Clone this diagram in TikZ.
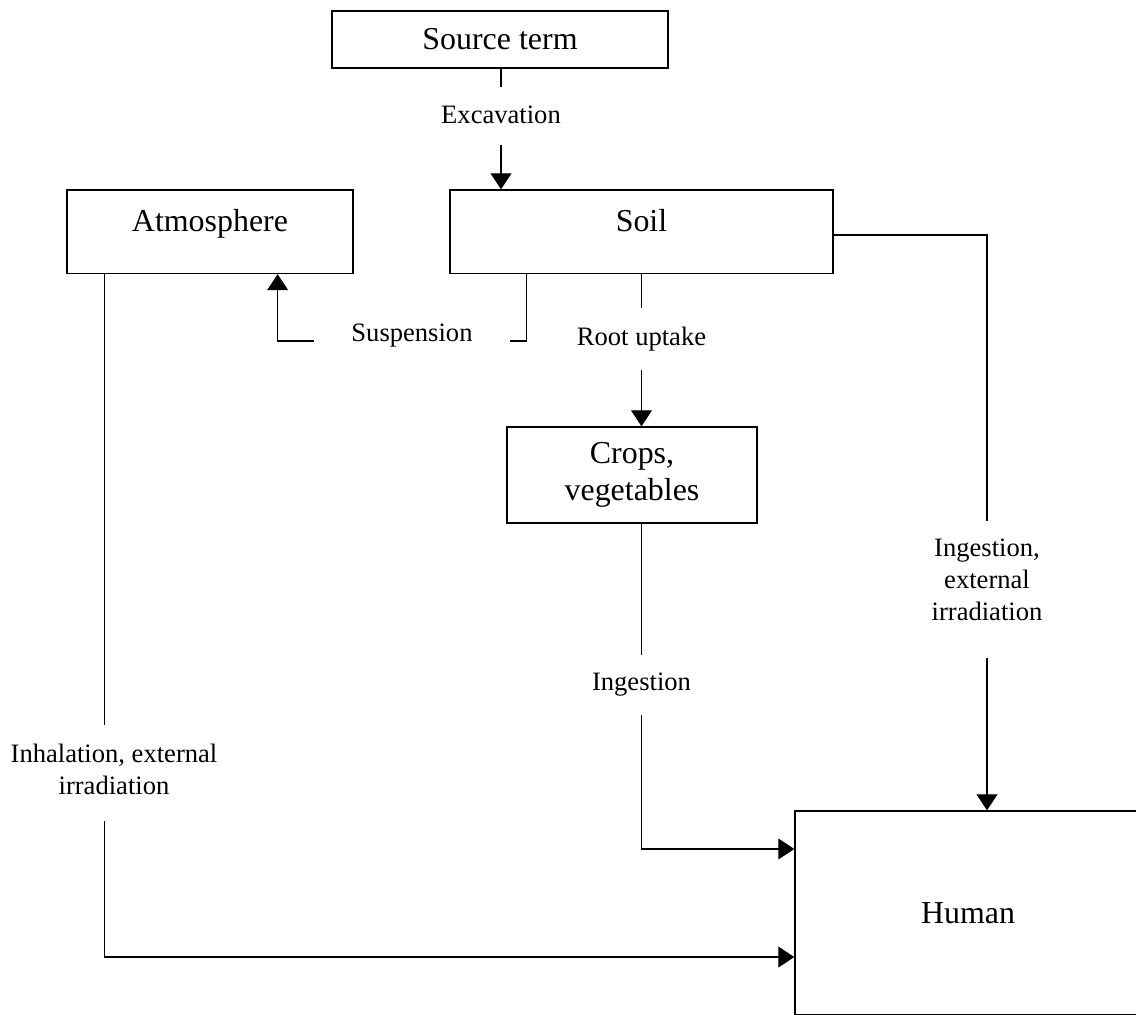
\documentclass[tikz,border=0pt]{standalone}
\usepackage{fontspec}
\setmainfont{Liberation Serif}
\usetikzlibrary{arrows.meta}

\begin{document}
\begin{tikzpicture}[x=0.025cm, y=-0.025cm, line width=0.9pt,
	box/.style = {draw, rectangle, inner sep=0pt, align=center,
		font=\fontsize{22.7pt}{26pt}\selectfont},
	pathlabel/.style = {inner xsep=0pt, inner ysep=0.45cm, align=center,
		font=\fontsize{18.9pt}{22.7pt}\selectfont},
	flow/.style = {-{Triangle[length=0.4cm, width=0.52cm]}}]

	\useasboundingbox (0, 0) rectangle (1136, 1014);

	% Compartments

	\node [box, minimum width=8.4cm, minimum height=1.425cm] (source) at (500, 39.5) {Source term};
	\node [box, minimum width=7.15cm, minimum height=2.09cm, text height=0.7em, text depth=0.7em] (atmos) at (210, 231.75) {Atmosphere};
	\node [box, minimum width=9.575cm, minimum height=2.09cm, text height=0.7em, text depth=0.7em] (soil) at (641.5, 231.75) {Soil};
	\node [box, minimum width=6.25cm, minimum height=2.4cm] (crops) at (632, 475) {Crops,\\vegetables};
	\node [box, minimum width=8.65cm, minimum height=5.1cm] (human) at (968, 913) {Human};

	% Transfer pathways

	\node [pathlabel] (excav) at (501, 115) {Excavation};
	\node [pathlabel] (uptake) at (641.5, 339) {Root uptake};
	\node [pathlabel, inner xsep=0.93cm, anchor=base] (susp) at (412, 341) {Suspension};
	\node [pathlabel] (ingest) at (641.5, 685) {Ingestion};
	\node [pathlabel] (inhal) at (114, 769) {Inhalation, external\\irradiation};
	\node [pathlabel] (ingext) at (987, 580) {Ingestion,\\external\\irradiation};

	% Bend points on the boxes

	\coordinate (atmos-out) at ([xshift=0.95cm]atmos.south west);
	\coordinate (atmos-in) at ([xshift=-1.9cm]atmos.south east);
	\coordinate (soil-susp) at ([xshift=1.925cm]soil.south west);
	\coordinate (soil-out) at ([yshift=-0.08cm]soil.east);
	\coordinate (human-crops) at ([yshift=1.6cm]human.west);
	\coordinate (human-atmos) at ([yshift=-1.1cm]human.west);

	% Connectors

	\draw (source.south -| excav) -- (excav.north);
	\draw [flow] ([yshift=-0.07cm]excav.south) -- (excav.south |- soil.north);

	\draw (soil.south -| uptake) -- (uptake.north);
	\draw [flow] (uptake.south) -- (uptake.south |- crops.north);

	\draw (soil-susp) |- (susp.base east);
	\draw [flow] (susp.base west) -| (atmos-in);

	\draw (crops.south -| ingest) -- (ingest.north);
	\draw [flow] (ingest.south) |- (human-crops);

	\draw (atmos-out) -- (atmos-out |- inhal.north);
	\draw [flow] ([yshift=-0.2cm]atmos-out |- inhal.south) |- (human-atmos);

	\draw (soil-out) -| (ingext.north);
	\draw [flow] ([yshift=-0.45cm]ingext.south) -- (ingext.south |- human.north);

\end{tikzpicture}
\end{document}
